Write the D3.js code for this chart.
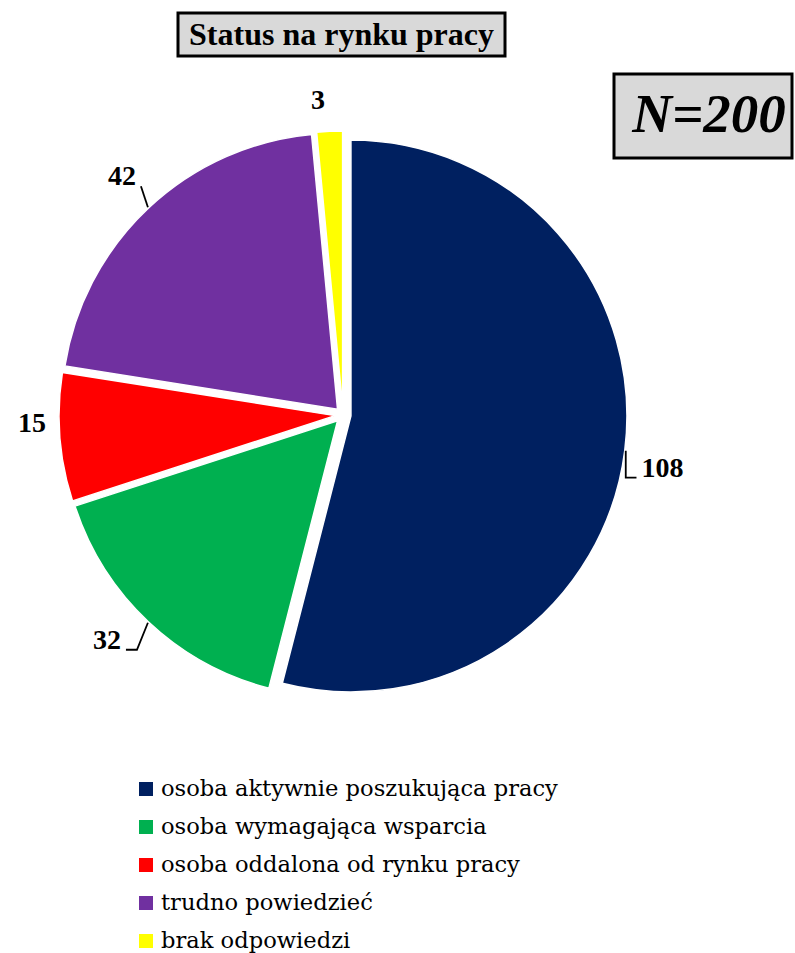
<!DOCTYPE html>
<html>
<head>
<meta charset="utf-8">
<script src="https://cdn.jsdelivr.net/npm/d3@7"></script>
<style>
  html, body { margin: 0; padding: 0; background: #ffffff; }
  svg { display: block; }
</style>
</head>
<body>
<svg id="chart" width="795" height="953"></svg>
<script>
// ---- data ----
const titleText = "Status na rynku pracy";
const sampleText = "N=200";
const categories = [
  "osoba aktywnie poszukująca pracy",
  "osoba wymagająca wsparcia",
  "osoba oddalona od rynku pracy",
  "trudno powiedzieć",
  "brak odpowiedzi"
];
const values = [108, 32, 15, 42, 3];
const colors = ["#002060", "#00B050", "#FF0000", "#7030A0", "#FFFF00"];
const leaderShown = [true, true, false, true, false];

// ---- layout ----
const W = 795, H = 953;
const cx = 343, cy = 415, R = 276, explode = 8;
const labelGap = 36;
const labelNudge = [[2, 12], [-17, -9], [8, -18], [-2, -6], [-10, 4]];

const svg = d3.select("#chart");
svg.append("rect").attr("width", W).attr("height", H).attr("fill", "#fff");

// Title box
const titleG = svg.append("g");
titleG.append("rect")
  .attr("x", 178).attr("y", 13).attr("width", 327).attr("height", 43)
  .attr("fill", "#d9d9d9").attr("stroke", "#000").attr("stroke-width", 3);
titleG.append("text")
  .attr("x", 341.5).attr("y", 45)
  .attr("text-anchor", "middle")
  .attr("font-family", "'Liberation Serif', serif")
  .attr("font-weight", "bold")
  .attr("font-size", 32)
  .attr("fill", "#000")
  .text(titleText);

// N box
const nG = svg.append("g");
nG.append("rect")
  .attr("x", 614).attr("y", 74).attr("width", 178).attr("height", 84)
  .attr("fill", "#d9d9d9").attr("stroke", "#000").attr("stroke-width", 3);
nG.append("text")
  .attr("x", 709).attr("y", 132)
  .attr("text-anchor", "middle")
  .attr("font-family", "'Liberation Serif', serif")
  .attr("font-weight", "bold")
  .attr("font-style", "italic")
  .attr("font-size", 55)
  .attr("fill", "#000")
  .text(sampleText);

// Pie
const pie = d3.pie().sort(null).value(d => d).startAngle(0).endAngle(2 * Math.PI);
const arcs = pie(values);
const arc = d3.arc().innerRadius(0).outerRadius(R);

const unit = a => [Math.sin(a), -Math.cos(a)];

const pieG = svg.append("g").attr("transform", `translate(${cx},${cy})`);
pieG.selectAll("path.slice")
  .data(arcs)
  .join("path")
  .attr("class", "slice")
  .attr("transform", d => {
    const m = (d.startAngle + d.endAngle) / 2;
    const u = unit(m);
    return `translate(${u[0] * explode},${u[1] * explode})`;
  })
  .attr("d", arc)
  .attr("fill", (d, i) => colors[i])
  .attr("stroke", "#fff")
  .attr("stroke-width", 1.5)
  .attr("stroke-linejoin", "miter");

// Labels
const labelFont = 28;
const labelsG = svg.append("g");
arcs.forEach((d, i) => {
  const m = (d.startAngle + d.endAngle) / 2;
  const u = unit(m);
  const sx = cx + u[0] * explode, sy = cy + u[1] * explode;
  const lx = sx + u[0] * (R + labelGap) + labelNudge[i][0];
  const ly = sy + u[1] * (R + labelGap) + labelNudge[i][1];
  const baseline = ly + labelFont * 0.676 / 2;
  const t = labelsG.append("text")
    .attr("x", lx).attr("y", baseline)
    .attr("text-anchor", "middle")
    .attr("font-family", "'Liberation Serif', serif")
    .attr("font-weight", "bold")
    .attr("font-size", labelFont)
    .attr("fill", "#000")
    .text(d.data);
  if (leaderShown[i]) {
    const w = t.node().getComputedTextLength();
    const ax = sx + u[0] * (R + 1), ay = sy + u[1] * (R + 1);
    const bottom = baseline + 1;
    let endX, elbowX;
    if (ax > lx) {
      endX = lx + w / 2 + 5;
      elbowX = (ax >= endX && ax <= endX + 16) ? ax : endX + 11;
    } else {
      endX = lx - w / 2 - 5;
      elbowX = (ax <= endX && ax >= endX - 16) ? ax : endX - 11;
    }
    const pts = (ly < ay)
      ? [[ax, ay], [endX, bottom]]
      : [[ax, ay], [elbowX, bottom], [endX, bottom]];
    labelsG.append("path")
      .attr("d", d3.line()(pts))
      .attr("fill", "none")
      .attr("stroke", "#000")
      .attr("stroke-width", 1.8);
  }
});

// Legend
const legendG = svg.append("g").attr("transform", "translate(139,782)");
const rowStep = 38;
const rows = legendG.selectAll("g.row")
  .data(categories)
  .join("g")
  .attr("class", "row")
  .attr("transform", (d, i) => `translate(0,${i * rowStep})`);
rows.append("rect")
  .attr("x", 0).attr("y", 0).attr("width", 14).attr("height", 14)
  .attr("fill", (d, i) => colors[i]);
rows.append("text")
  .attr("x", 22).attr("y", 14)
  .attr("font-family", "'DejaVu Serif', serif")
  .attr("font-size", 22.6)
  .attr("fill", "#000")
  .text(d => d);
</script>
</body>
</html>
